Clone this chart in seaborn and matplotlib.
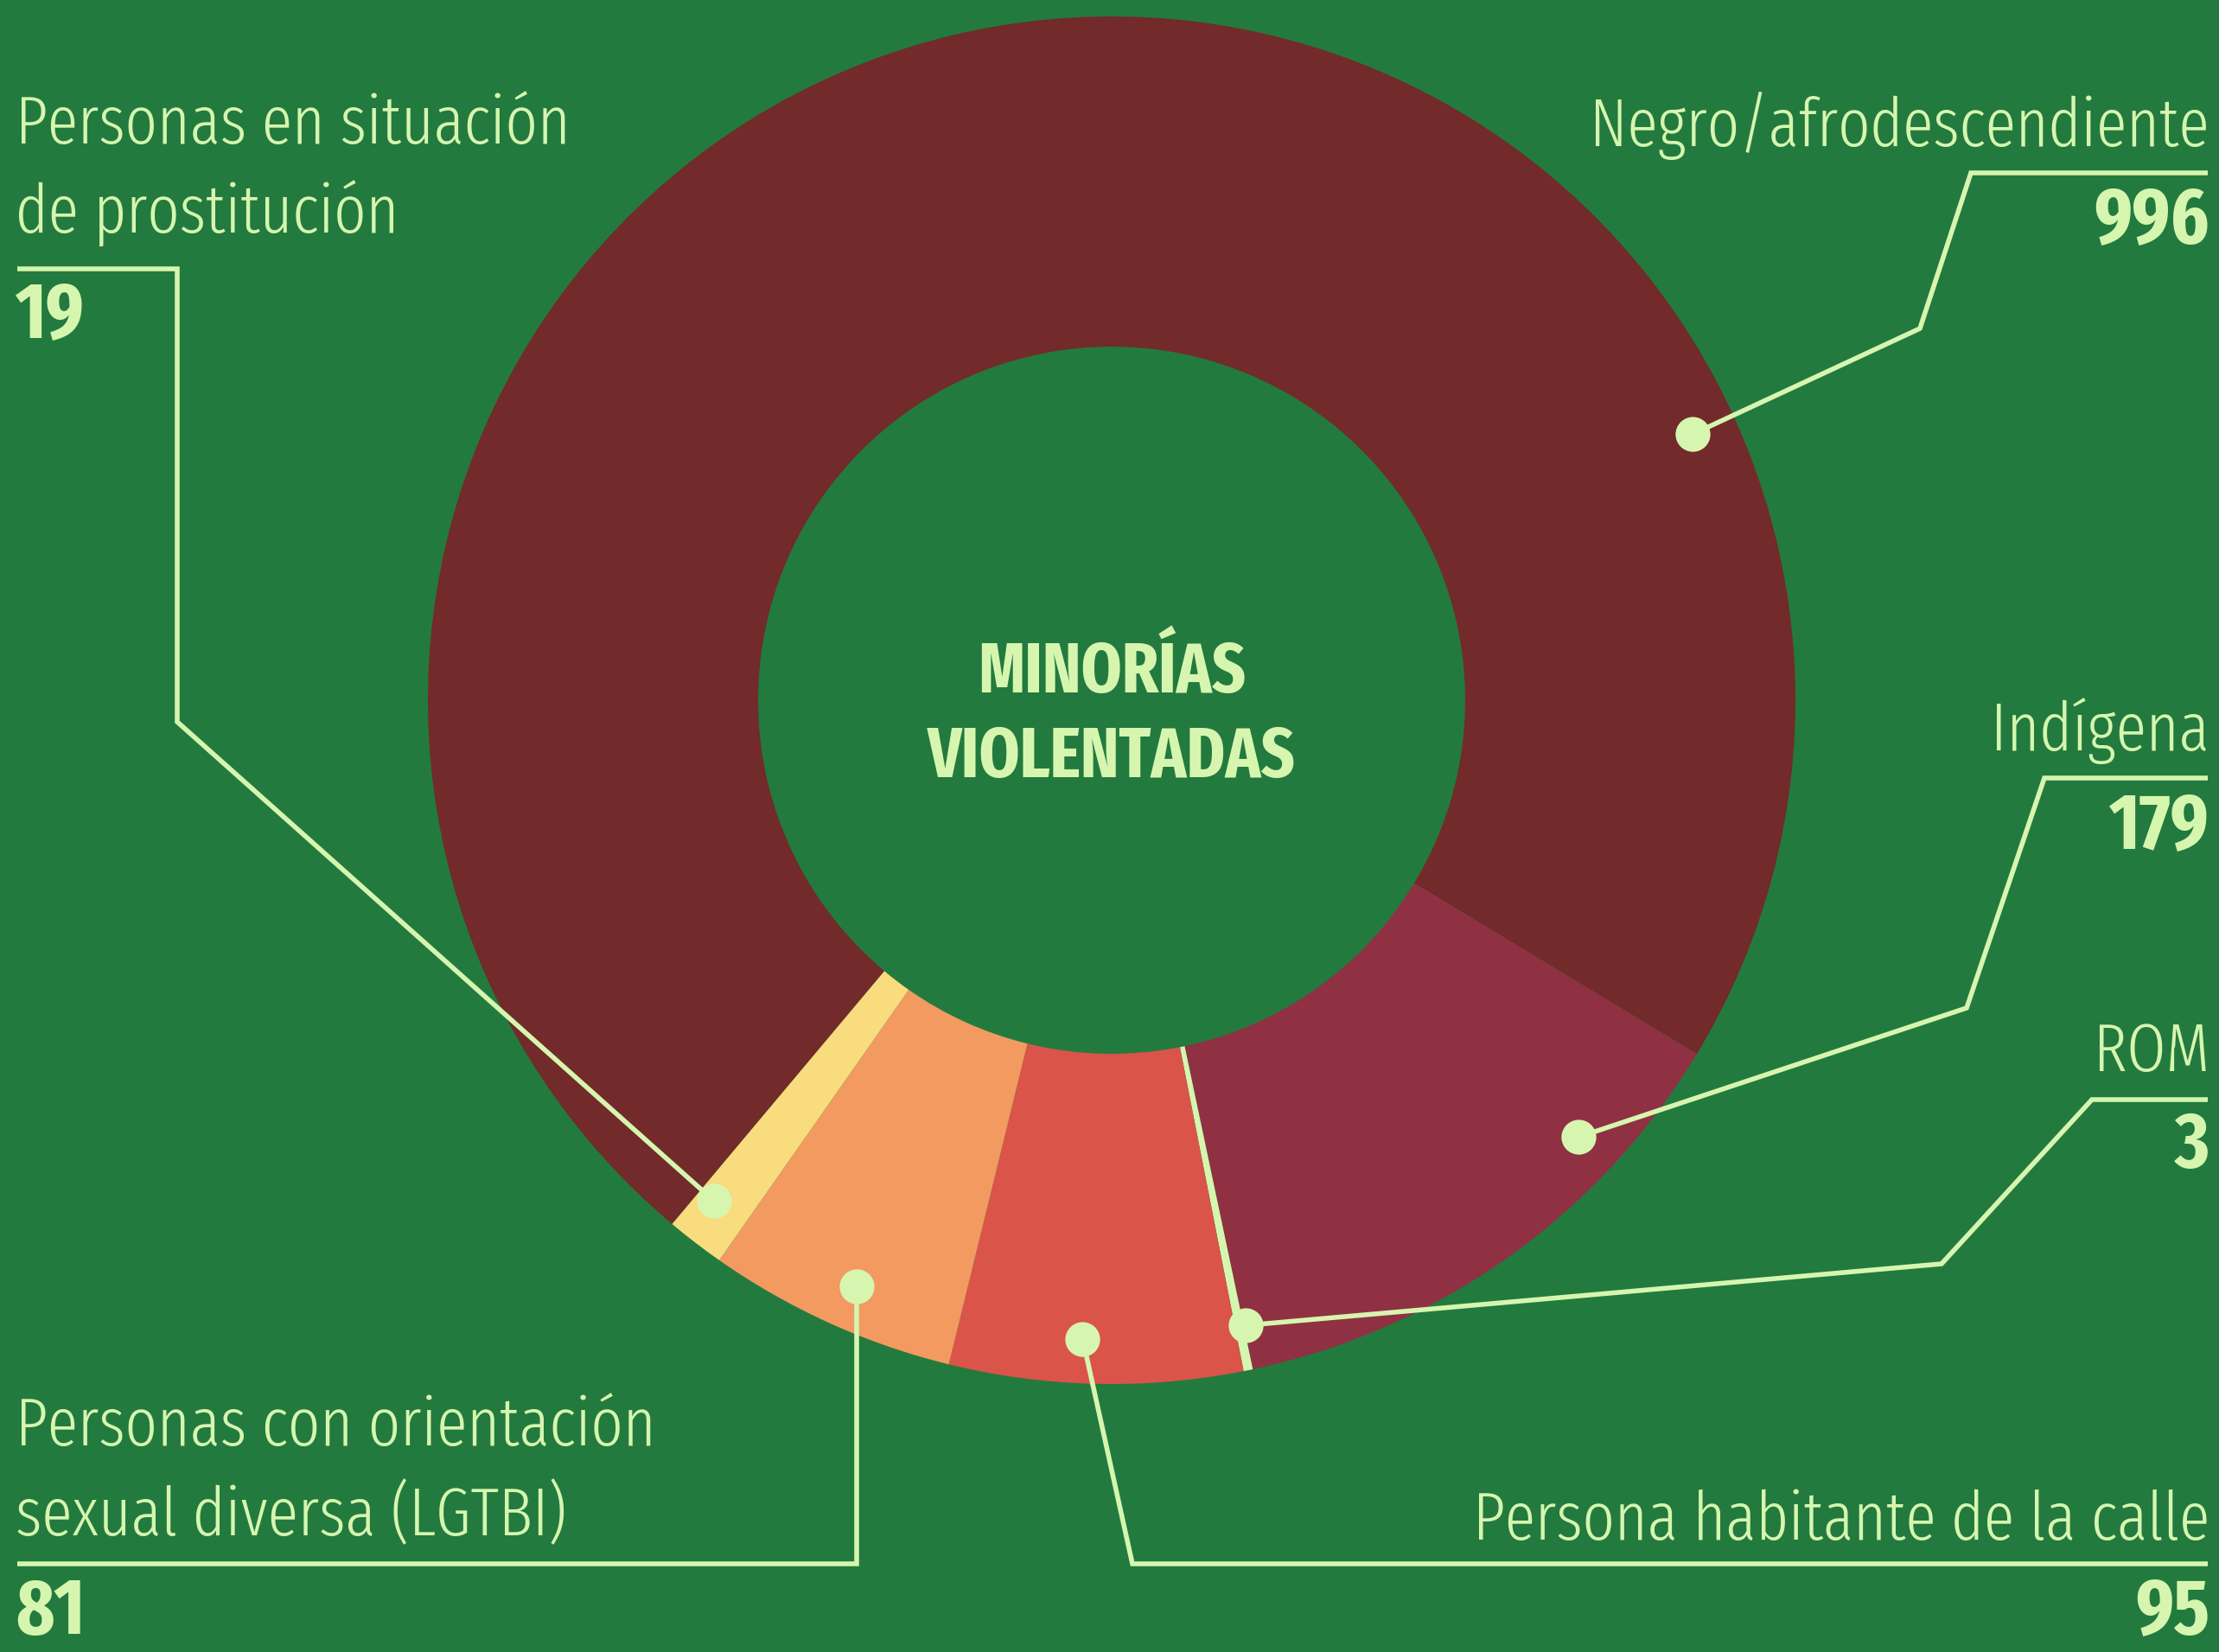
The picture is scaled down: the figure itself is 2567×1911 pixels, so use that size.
import os
import numpy as np
import matplotlib
matplotlib.use("Agg")
import matplotlib.pyplot as plt
import matplotlib.font_manager as fm
from matplotlib.font_manager import FontProperties
import seaborn as sns

# ---------------- data ----------------
categories = ["Negro/afrodescendiente", "Indígena", "ROM",
              "Persona habitante de la calle",
              "Personas con orientación\nsexual diversa (LGTBI)",
              "Personas en situación\nde prostitución"]
values = [996, 179, 3, 95, 81, 19]
value_labels = ["996", "179", "3", "95", "81", "19"]
center_title = "MINORÍAS\nVIOLENTADAS"

# ---------------- style ----------------
sns.set_style("white")
plt.rcParams['font.family'] = ['DejaVu Sans']

def _w(f):
    w = f.weight
    if isinstance(w, str):
        w = fm.weight_dict.get(w, 400)
    return int(w)

STRETCH_RANK = {'ultra-condensed': 4, 'extra-condensed': 3, 'condensed': 2,
                'semi-condensed': 1}

def find_condensed(bold):
    best, best_score = None, -1e9
    for f in fm.fontManager.ttflist:
        n = (f.name + ' ' + os.path.basename(f.fname)).lower()
        if any(k in n for k in ('cjk', 'mono', 'serif', 'symbol', 'emoji', 'math')) and 'sans' not in n:
            continue
        if 'mono' in n or 'cjk' in n or 'italic' in n or 'oblique' in n or f.style != 'normal':
            continue
        st = f.stretch
        rank = 0
        if isinstance(st, str):
            rank = STRETCH_RANK.get(st, 0)
        elif isinstance(st, (int, float)) and st < 500:
            rank = 2
        if 'extracondensed' in n.replace(' ', '').replace('-', ''):
            rank = max(rank, 3)
        elif 'condensed' in n or 'narrow' in n:
            rank = max(rank, 2)
        if rank == 0:
            continue
        w = _w(f)
        target = 700 if bold else 350
        score = rank * 1000 - abs(w - target)
        if bold and w < 600:
            score -= 3000
        if (not bold) and w > 500:
            score -= 3000
        if score > best_score:
            best, best_score = f, score
    return best

f_reg = find_condensed(False)
f_bold = find_condensed(True)
fp_reg = FontProperties(fname=f_reg.fname) if f_reg else FontProperties(family='DejaVu Sans')
fp_bold = FontProperties(fname=f_bold.fname) if f_bold else FontProperties(family='DejaVu Sans', weight='bold')

BG = "#237a3e"
TXT = "#d6f6b0"
colors = ["#722a2a", "#8f3142", TXT, "#da544a", "#f29a60", "#f8dc7e"]

W, H = 2567, 1911
DPI = 100
fig = plt.figure(figsize=(W / DPI, H / DPI), dpi=DPI, facecolor=BG)
ax = fig.add_axes([0, 0, 1, 1])
ax.set_facecolor(BG)

def Y(y):
    return H - y

CX, CY, R = 1286, 810, 791
RIN = 409

wedges, _ = ax.pie(values, colors=colors, startangle=230, counterclock=False,
                   radius=R, center=(CX, Y(CY)),
                   wedgeprops=dict(width=R - RIN, linewidth=0, antialiased=True))
for w in wedges:
    w.set_zorder(1)

ax.set_xlim(0, W)
ax.set_ylim(0, H)
ax.set_aspect('equal')
ax.axis('off')

# ---------------- leader lines & dots ----------------
dot_angles = [24.6, -43.1, -77.9, -92.6, -113.5, -128.5]
dot_r = 0.935 * R
bends = [
    [(2221, 380), (2280, 200), (2554, 200)],
    [(2275, 1166), (2365, 900), (2554, 900)],
    [(2246, 1462), (2420, 1272), (2554, 1272)],
    [(1310, 1809), (2554, 1809)],
    [None, (20, 1809)],
    [(205, 835), (205, 311), (20, 311)],
]
LW = 4.0
for i, ang in enumerate(dot_angles):
    a = np.deg2rad(ang)
    dx, dy = CX + dot_r * np.cos(a), Y(CY) + dot_r * np.sin(a)
    xs, ys = [dx], [dy]
    for p in bends[i]:
        if p is None:
            xs.append(dx); ys.append(Y(1809))
        else:
            xs.append(p[0]); ys.append(Y(p[1]))
    ax.plot(xs, ys, color=TXT, lw=LW, solid_joinstyle='miter',
            solid_capstyle='butt', zorder=3)
    ax.plot([dx], [dy], 'o', color=TXT, ms=29, mew=0, zorder=4)

# ---------------- texts ----------------
renderer = fig.canvas.get_renderer()

def fit_size(text, fp, target_w, max_size, base=60):
    t = ax.text(0, 0, text, fontproperties=fp, fontsize=base)
    wpx = t.get_window_extent(renderer).width
    t.remove()
    return min(max_size, base * target_w / wpx)

FS_LABEL = fit_size("Negro/afrodescendiente", fp_reg, 717, 66)
FS_NUM = fit_size("996", fp_bold, 147, 66)
FS_CENTER = fit_size("VIOLENTADAS", fp_bold, 426, 62)

label_pos = [
    (2556, 169, 'right'),
    (2556, 868, 'right'),
    (2556, 1239, 'right'),
    (2556, 1781, 'right'),
    (18, 1776, 'left'),
    (18, 270, 'left'),
]
num_pos = [
    (2556, 257, 'right'),
    (2556, 958, 'right'),
    (2556, 1326, 'right'),
    (2556, 1866, 'right'),
    (18, 1866, 'left'),
    (18, 367, 'left'),
]
for i, cat in enumerate(categories):
    x, yb, ha = label_pos[i]
    lines = cat.split("\n")
    # each line placed on its own baseline (reference leading ~104 px)
    for k, line in enumerate(lines):
        yy = yb - (len(lines) - 1 - k) * 104
        ax.text(x, Y(yy), line, ha=ha, va='baseline', color=TXT,
                fontproperties=fp_reg, fontsize=FS_LABEL, zorder=5)
    x, yc, ha = num_pos[i]
    ax.text(x, Y(yc), value_labels[i], ha=ha, va='center', color=TXT,
            fontproperties=fp_bold, fontsize=FS_NUM, zorder=5)

for k, line in enumerate(center_title.split("\n")):
    ax.text(CX, Y([778, 876][k]), line, ha='center', va='center', color=TXT,
            fontproperties=fp_bold, fontsize=FS_CENTER, zorder=5)

fig.savefig("out.png", dpi=DPI, facecolor=BG)
